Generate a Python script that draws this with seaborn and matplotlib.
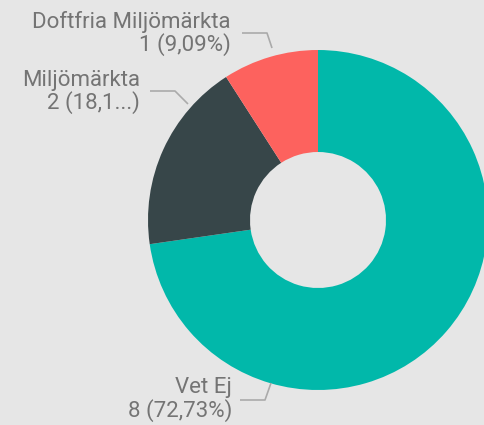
import matplotlib
matplotlib.use("Agg")
import matplotlib.pyplot as plt
import seaborn as sns

categories = ["Vet Ej", "Miljömärkta", "Doftfria Miljömärkta"]
counts = [8, 2, 1]
pct_labels = ["8 (72,73%)", "2 (18,1...)", "1 (9,09%)"]
colors = ["#01B8AA", "#374649", "#FD625E"]

BG = "#E6E6E6"
TXT = "#747474"
LINE = "#AAAAAA"

sns.set_theme(style="white")
plt.rcParams["font.family"] = ["Roboto", "DejaVu Sans"]

W, H = 485, 425
fig = plt.figure(figsize=(W / 100, H / 100), dpi=100, facecolor=BG)
ax = fig.add_axes([0, 0, 1, 1])
ax.set_facecolor(BG)

cx, cy, R = 318, H - 220, 170
ax.pie(counts, colors=colors, startangle=90, counterclock=False,
       center=(cx, cy), radius=R,
       wedgeprops=dict(width=R * 0.6, linewidth=0))
ax.set_xlim(0, W)
ax.set_ylim(0, H)
ax.set_aspect("equal")
ax.axis("off")

# label blocks: (text right edge x, first-line y), leader polyline in pixel coords (y down)
layout = {
    "Doftfria Miljömärkta": ((231, 22), [(242, 33), (267, 33), (272, 48)]),
    "Miljömärkta": ((140, 80), [(150, 91), (175, 91), (188, 104)]),
    "Vet Ej": ((232, 388), [(240, 400), (265, 400), (271, 383)]),
}
for cat, lab in zip(categories, pct_labels):
    (tx, ty), pts = layout[cat]
    ax.text(tx, H - ty, cat, ha="right", va="center", fontsize=16, color=TXT)
    ax.text(tx, H - ty - 23, lab, ha="right", va="center", fontsize=16, color=TXT)
    xs = [p[0] for p in pts]
    ys = [H - p[1] for p in pts]
    ax.plot(xs, ys, color=LINE, linewidth=1.2, solid_capstyle="butt")

fig.savefig("out.png", dpi=100, facecolor=BG)
